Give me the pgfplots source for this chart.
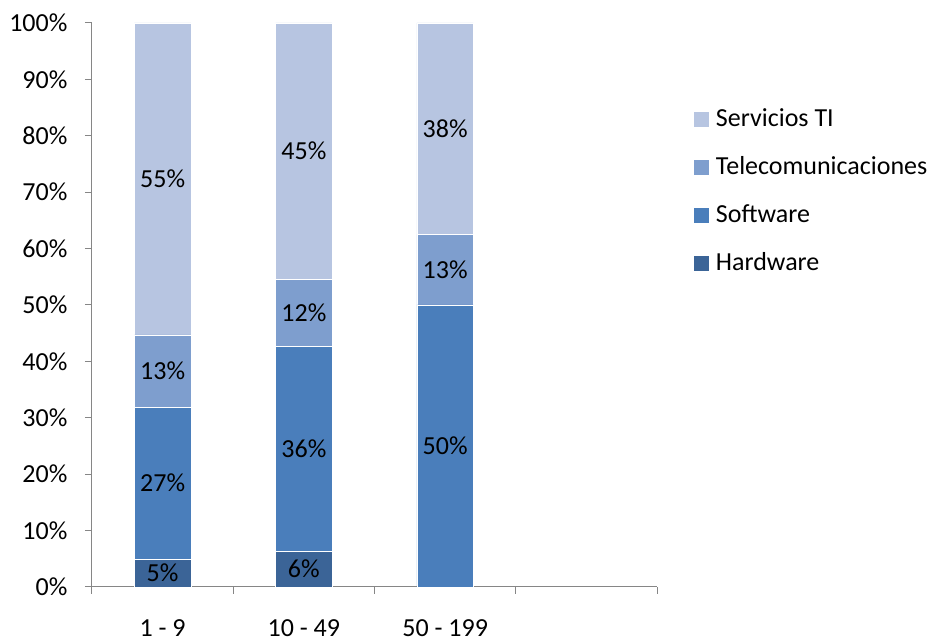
\documentclass[border=0pt]{standalone}
\usepackage{pgfplots}
\pgfplotsset{compat=1.18}
\usepackage{fontspec}
\setmainfont{Carlito}

\definecolor{hw}{HTML}{3B6497}
\definecolor{sw}{HTML}{4A7EBB}
\definecolor{tc}{HTML}{7E9ECE}
\definecolor{st}{HTML}{B7C5E1}
\definecolor{axgray}{HTML}{868686}

% share of each sector per company size (x = 0,1,2 -> 1-9, 10-49, 50-199)
\pgfplotstableread{
x  hw   sw    tc    st
0  4.9  27.0  12.8  55.3
1  6.3  36.3  12.0  45.4
2  0.0  50.0  12.5  37.5
}\shares

% label positions (segment centres) and printed percentages
\pgfplotstableread{
x  y      lab
0  2.45   5
0  18.4   27
0  38.3   13
0  72.35  55
1  3.15   6
1  24.45  36
1  48.6   12
1  77.3   45
2  25.0   50
2  56.25  13
2  81.25  38
}\labels

\pgfplotsset{
  frame/.style={
    scale only axis, width=423.75pt, height=423pt,
    at={(0,0)}, anchor=south west,
    xmin=-0.5, xmax=3.5, ymin=0, ymax=100,
  },
  sqleg/.style={legend image code/.code={\fill[##1,draw=none] (0pt,-5.6pt) rectangle (11.25pt,5.6pt);}},
}

\begin{document}
\fontsize{19.5}{23}\selectfont
\begin{tikzpicture}
\begin{axis}[
    frame,
    ybar stacked, bar width=0.4,
    axis lines*=left,
    axis line style={axgray, line width=0.75pt},
    tick style={axgray, line width=0.75pt},
    tick align=outside, major tick length=5.25pt,
    ytick={0,10,...,100},
    yticklabel={\pgfmathprintnumber{\tick}\%},
    yticklabel style={xshift=-6.5pt},
    /pgf/number format/assume math mode=true,
    xtick={-0.5,0.5,1.5,2.5,3.5}, xticklabels={},
    extra x ticks={0,1,2},
    extra x tick labels={1 - 9, 10 - 49, 50 - 199},
    extra x tick style={major tick length=0pt, xticklabel style={yshift=-17.5pt}},
    reverse legend,
    legend style={at={(rel axis cs:1.0655,0.8547)}, anchor=north west,
      draw=none, fill=none, inner sep=0pt, row sep=14pt,
      legend cell align=left,
      /tikz/every odd column/.append style={column sep=3pt},
      nodes={inner sep=2pt, text height=14pt, text depth=4pt}},
  ]
  \addplot[fill=hw, draw=white, sqleg] table[x=x, y=hw] {\shares};
  \addplot[fill=sw, draw=white, sqleg] table[x=x, y=sw] {\shares};
  \addplot[fill=tc, draw=white, sqleg] table[x=x, y=tc] {\shares};
  \addplot[fill=st, draw=white, sqleg] table[x=x, y=st] {\shares};
  \legend{Hardware, Software, Telecomunicaciones, Servicios TI}
\end{axis}
\begin{axis}[frame, hide axis]
  \addplot[only marks, mark=*, mark size=0pt, mark options={draw=none, fill=none},
    point meta=explicit,
    nodes near coords={\pgfmathprintnumber{\pgfplotspointmeta}\%},
    every node near coord/.append style={anchor=center, text=black},
    /pgf/number format/assume math mode=true,
  ] table[x=x, y=y, meta=lab] {\labels};
\end{axis}
\pgfresetboundingbox
\path (-69pt,-40.5pt) rectangle (633pt,440.25pt);
\end{tikzpicture}
\end{document}
